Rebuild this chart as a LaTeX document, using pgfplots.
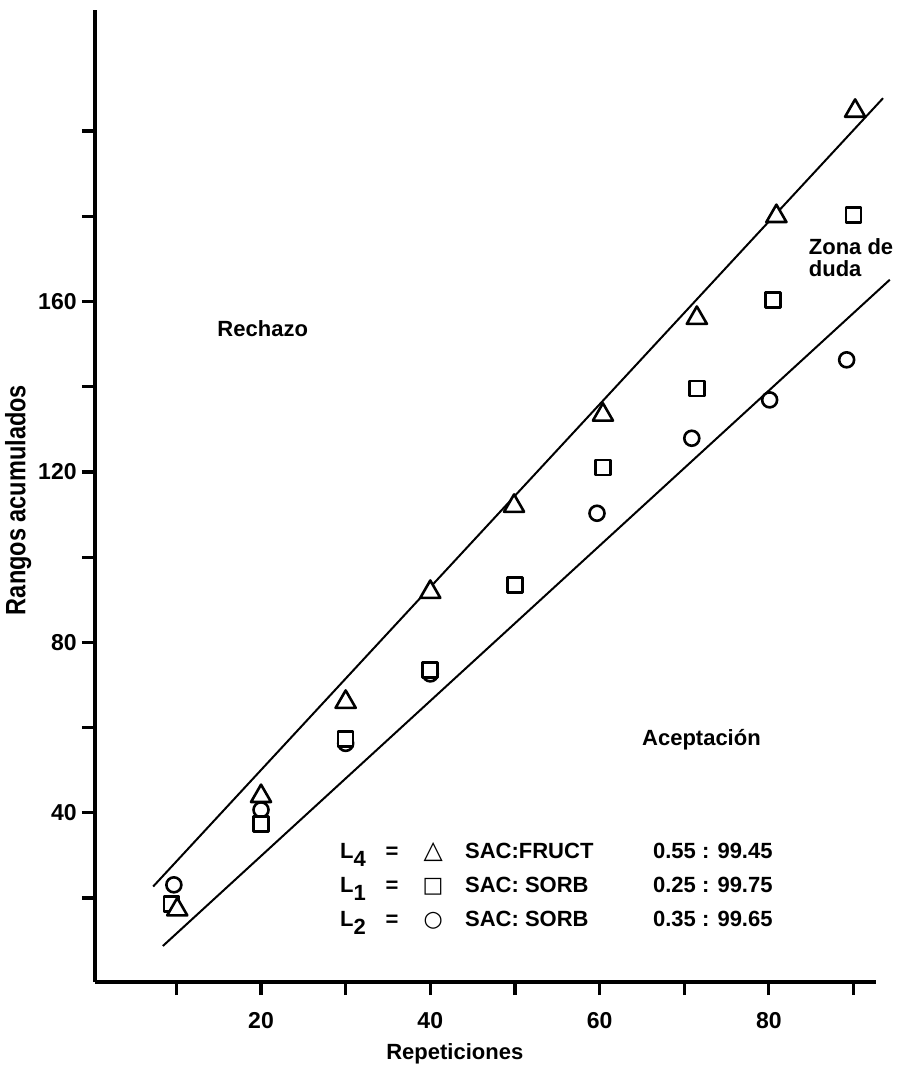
\documentclass[border=0pt]{standalone}
\usepackage{pgfplots}
\pgfplotsset{compat=1.18}
\usepackage{fontspec}
\setmainfont{Liberation Sans}
\newfontfamily\symfont{DejaVu Sans}
\begin{document}
\begin{tikzpicture}[font=\bfseries\fontsize{11}{13}\selectfont]
\begin{axis}[name=ax, scale only axis, width=390.5pt, height=486pt,
  xmin=0.38, xmax=92.67, ymin=0.3, ymax=228.4,
  axis x line=bottom, axis y line=left,
  axis line style={-, line width=2pt},
  xtick={20,40,60,80}, minor xtick={10,30,50,70,90},
  ytick={40,80,120,160}, minor ytick={20,60,100,140,180,200},
  tick align=outside, major tick length=6.5pt, minor tick length=6.5pt,
  every tick/.style={line width=1.6pt, black},
  /pgf/number format/assume math mode=true,
  ticklabel style={font=\bfseries\fontsize{11.5}{13}\selectfont},
  xticklabel style={yshift=-5pt},
  yticklabel style={inner sep=2.5pt},
  xlabel={Repeticiones},
  xlabel style={at={(axis cs:42.9,-16.6)}, anchor=center, font=\bfseries\fontsize{11}{13}\selectfont},
  ylabel={\scalebox{0.84}[1]{Rangos acumulados}},
  ylabel style={at={(axis cs:-8.7,113.4)}, anchor=center, font=\bfseries\fontsize{14}{16}\selectfont},
  clip=false]
% limit lines
\addplot[black, line width=1pt, no marks] coordinates {(7.25,22.7) (93.5,207.7)};
\addplot[black, line width=1pt, no marks] coordinates {(8.4,8.75) (94.3,165.1)};
% L2 circles
\addplot[only marks, mark=*, mark size=3.75pt, mark options={draw=black, fill=white, line width=1.3pt}]
  coordinates {(9.7,23.1) (20,40.7) (30,56.3) (40,72.6) (50,93.5) (59.7,110.3) (70.9,127.9) (80.1,136.9) (89.2,146.3)};
% L1 squares
\addplot[only marks, mark=square*, mark size=3.75pt, mark options={draw=black, fill=white, line width=1.3pt, line join=round}]
  coordinates {(9.4,18.6) (20,37.4) (30,57.3) (40,73.5) (50,93.5) (60.4,121) (71.5,139.6) (80.5,160.4) (90,180.3)};
% L4 triangles
\addplot[only marks, mark=triangle*, mark size=5.8pt, mark options={draw=black, fill=white, line width=1.3pt, line join=round}]
  coordinates {(10.1,17.3) (20,43.9) (30,66.0) (40,91.8) (49.9,112.0) (60.4,133.4) (71.5,156.1) (80.9,180.0) (90.2,204.7)};
\node at (axis cs:20.2,153.6) {Rechazo};
\node[align=left, anchor=west, font=\bfseries\fontsize{11}{11}\selectfont] at (axis cs:83.9,170.2) {Zona de\\duda};
\node[anchor=west] at (axis cs:64.2,57.1) {Aceptación};
\node[anchor=west, align=left, inner sep=0pt, font=\bfseries\fontsize{11}{17}\selectfont] at (axis cs:29.3,22.3)
 {\makebox[20pt][l]{L\raisebox{-0.38em}{4}}\makebox[12pt]{=}\makebox[29pt]{\symfont\mdseries\fontsize{12.5}{17}\selectfont △}\makebox[95.5pt][l]{\hspace{1.5pt}SAC:FRUCT}0.55 : 99.45\\
  \makebox[20pt][l]{L\raisebox{-0.38em}{1}}\makebox[12pt]{=}\makebox[29pt]{\symfont\mdseries □}\makebox[95.5pt][l]{\hspace{1.5pt}SAC: SORB}0.25 : 99.75\\
  \makebox[20pt][l]{L\raisebox{-0.38em}{2}}\makebox[12pt]{=}\makebox[29pt]{\symfont\mdseries ○}\makebox[95.5pt][l]{\hspace{1.5pt}SAC: SORB}0.35 : 99.65};
\end{axis}
\pgfresetboundingbox
\path (ax.south west) ++(-47.5pt,-43.5pt) coordinate (bl);
\path (ax.north east) ++(11pt,5pt) coordinate (tr);
\useasboundingbox (bl) rectangle (tr);
\end{tikzpicture}
\end{document}
